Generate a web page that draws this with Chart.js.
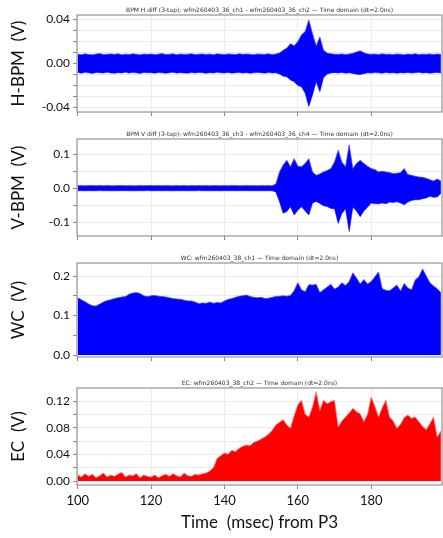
<!DOCTYPE html>
<html><head><meta charset="utf-8">
<script src="https://cdn.jsdelivr.net/npm/chart.js@4/dist/chart.umd.min.js"></script>
<style>
html,body{margin:0;padding:0;background:#fff;width:443px;height:538px;overflow:hidden}
#wrap{position:relative;width:443px;height:538px}
canvas{position:absolute;left:0}
</style></head><body>
<div id="wrap">
<canvas id="c1" width="443" height="116" style="top:0px;width:443px;height:116px"></canvas>
<canvas id="c2" width="443" height="116" style="top:124px;width:443px;height:116px"></canvas>
<canvas id="c3" width="443" height="113" style="top:248px;width:443px;height:113px"></canvas>
<canvas id="c4" width="443" height="165" style="top:373px;width:443px;height:165px"></canvas>
</div>
<script>
// time grid (msec from P3)
const times = [100,101,102,103,104,105,106,107,108,109,110,111,112,113,114,115,116,117,118,119,
120,121,122,123,124,125,126,127,128,129,130,131,132,133,134,135,136,137,138,139,
140,141,142,143,144,145,146,147,148,149,150,151,152,153,154,155,156,157,158,159,
160,161,162,163,164,165,166,167,168,169,170,171,172,173,174,175,176,177,178,179,
180,181,182,183,184,185,186,187,188,189,190,191,192,193,194,195,196,197,198,199];

// H-BPM envelope (V)
const hbpmUpper = [.0085,.0080,.0088,.0082,.0079,.0086,.0090,.0081,.0084,.0087,
.0083,.0089,.0080,.0085,.0082,.0088,.0084,.0079,.0086,.0083,
.0087,.0081,.0085,.0090,.0082,.0084,.0088,.0080,.0086,.0083,
.0085,.0089,.0081,.0084,.0087,.0082,.0086,.0080,.0088,.0084,
.0082,.0087,.0085,.0081,.0089,.0083,.0086,.0084,.0080,.0087,
.0085,.0083,.0088,.0082,.0086,.0095,.0120,.0140,.0180,.0160,
.0200,.0260,.0290,.0395,.0270,.0160,.0240,.0120,.0095,.0088,
.0085,.0083,.0087,.0082,.0086,.0092,.0105,.0115,.0098,.0087,
.0084,.0086,.0082,.0088,.0083,.0085,.0081,.0087,.0084,.0080,
.0086,.0083,.0088,.0081,.0085,.0084,.0087,.0082,.0086,.0083];
const hbpmLower = [-.0082,-.0088,-.0079,-.0085,-.0090,-.0081,-.0084,-.0087,-.0080,-.0086,
-.0089,-.0083,-.0086,-.0080,-.0087,-.0082,-.0085,-.0090,-.0081,-.0084,
-.0083,-.0088,-.0081,-.0085,-.0089,-.0084,-.0080,-.0087,-.0083,-.0086,
-.0088,-.0082,-.0086,-.0081,-.0084,-.0089,-.0083,-.0087,-.0080,-.0085,
-.0086,-.0081,-.0088,-.0084,-.0082,-.0087,-.0083,-.0089,-.0085,-.0081,
-.0084,-.0088,-.0082,-.0086,-.0085,-.0095,-.0115,-.0120,-.0150,-.0165,
-.0200,-.0210,-.0270,-.0390,-.0285,-.0165,-.0256,-.0130,-.0095,-.0087,
-.0083,-.0086,-.0081,-.0088,-.0084,-.0090,-.0098,-.0100,-.0092,-.0085,
-.0087,-.0082,-.0085,-.0089,-.0081,-.0086,-.0084,-.0088,-.0083,-.0086,
-.0082,-.0087,-.0084,-.0080,-.0086,-.0083,-.0088,-.0085,-.0081,-.0087];

// V-BPM envelope (V)
const vbpmUpper = [.0075,.0078,.0072,.0076,.0079,.0073,.0077,.0074,.0078,.0075,
.0072,.0076,.0079,.0074,.0077,.0073,.0075,.0078,.0074,.0076,
.0079,.0073,.0076,.0074,.0078,.0075,.0072,.0077,.0074,.0076,
.0073,.0077,.0075,.0079,.0074,.0076,.0072,.0078,.0075,.0073,
.0077,.0074,.0076,.0079,.0073,.0075,.0078,.0074,.0076,.0072,
.0078,.0075,.0077,.0074,.0120,.0480,.0680,.0820,.0630,.0870,
.0650,.0630,.0730,.0870,.0480,.0380,.0420,.0480,.0520,.0580,
.0770,.1120,.0770,.0630,.1280,.0580,.0730,.0820,.0730,.0650,
.0580,.0550,.0480,.0500,.0480,.0460,.0430,.0440,.0460,.0580,
.0400,.0380,.0350,.0330,.0320,.0290,.0250,.0210,.0270,.0210];
const vbpmLower = [-.0076,-.0073,-.0078,-.0074,-.0077,-.0075,-.0072,-.0079,-.0074,-.0076,
-.0078,-.0074,-.0076,-.0073,-.0077,-.0079,-.0074,-.0075,-.0078,-.0072,
-.0075,-.0078,-.0073,-.0077,-.0074,-.0076,-.0079,-.0073,-.0077,-.0075,
-.0077,-.0074,-.0078,-.0072,-.0076,-.0075,-.0079,-.0074,-.0076,-.0078,
-.0073,-.0077,-.0075,-.0078,-.0074,-.0076,-.0073,-.0079,-.0075,-.0077,
-.0074,-.0077,-.0075,-.0078,-.0110,-.0400,-.0740,-.0690,-.0550,-.0790,
-.0650,-.0550,-.0670,-.0790,-.0440,-.0390,-.0450,-.0520,-.0540,-.0600,
-.0610,-.1040,-.0750,-.0610,-.1280,-.0560,-.0670,-.0840,-.0670,-.0560,
-.0440,-.0460,-.0460,-.0440,-.0460,-.0410,-.0420,-.0400,-.0440,-.0490,
-.0410,-.0360,-.0340,-.0340,-.0310,-.0290,-.0240,-.0270,-.0260,-.0160];

// WC envelope (V)
const wcUpper = [.145,.140,.135,.129,.125,.124,.129,.134,.138,.140,
.143,.145,.147,.148,.154,.157,.158,.156,.150,.148,
.150,.151,.149,.148,.147,.145,.143,.142,.141,.139,
.137,.137,.134,.130,.132,.131,.134,.131,.133,.132,
.137,.141,.143,.146,.149,.150,.152,.148,.146,.145,
.146,.143,.144,.146,.148,.149,.150,.149,.151,.163,
.183,.165,.160,.178,.177,.179,.158,.165,.172,.179,
.167,.172,.183,.176,.186,.208,.195,.180,.191,.180,
.186,.198,.210,.168,.164,.163,.170,.177,.162,.181,
.170,.165,.190,.198,.218,.200,.183,.175,.168,.158];

// EC envelope (V)
const ecUpper = [.009,.006,.011,.007,.010,.005,.008,.012,.006,.009,
.007,.010,.013,.006,.009,.008,.011,.005,.009,.007,
.006,.009,.005,.008,.010,.007,.011,.008,.006,.012,
.008,.007,.010,.009,.011,.012,.015,.020,.034,.038,
.042,.040,.046,.044,.049,.052,.054,.053,.058,.060,
.063,.066,.070,.076,.084,.088,.092,.084,.079,.098,
.114,.121,.100,.096,.111,.134,.106,.121,.116,.119,
.121,.081,.090,.096,.102,.109,.104,.101,.089,.100,
.126,.112,.096,.110,.121,.096,.090,.079,.085,.095,
.099,.094,.096,.089,.082,.077,.086,.096,.066,.075];

const titles = [
 'BPM H diff (3-tap): wfm260403_36_ch1 - wfm260403_36_ch2 \u2014 Time domain (dt=2.0ns)',
 'BPM V diff (3-tap): wfm260403_36_ch3 - wfm260403_36_ch4 \u2014 Time domain (dt=2.0ns)',
 'WC: wfm260403_38_ch1 \u2014 Time domain (dt=2.0ns)',
 'EC: wfm260403_38_ch2 \u2014 Time domain (dt=2.0ns)'];
const yTitles = ['H-BPM  (V)', 'V-BPM  (V)', 'WC  (V)', 'EC  (V)'];
const xTitle = 'Time  (msec) from P3';
const X_MIN = 99.8, X_MAX = 199.3;

const pts = arr => times.map((t, i) => ({x: t, y: arr[i]}));

const frame = {id: 'frame', afterDatasetsDraw(c) {
  const a = c.chartArea, x = c.ctx;
  x.save(); x.strokeStyle = '#9b9b9b'; x.lineWidth = 1.3;
  x.strokeRect(a.left, a.top, a.right - a.left, a.bottom - a.top);
  x.restore();
}};

function noPad(s) { s.paddingTop = 0; s.paddingBottom = 0; s.paddingLeft = 0; s.paddingRight = 0; }

function panel(id, datasets, yMin, yMax, yStep, yMajor, yDec, yTitle, title, isBottom) {
  return new Chart(document.getElementById(id), {
    type: 'line',
    data: {datasets},
    options: {
      responsive: false, animation: false, devicePixelRatio: 1, events: [],
      layout: {padding: {top: 0, right: 1, bottom: 0, left: 0}},
      plugins: {
        legend: {display: false}, tooltip: {enabled: false},
        title: {display: true, text: title, fullSize: false, color: '#333',
          font: {family: 'DejaVu Sans', size: 6, weight: 'normal', lineHeight: 1.2},
          padding: {top: 6.4, bottom: 1.4}}
      },
      elements: {point: {radius: 0}, line: {tension: 0}},
      scales: {
        x: {type: 'linear', min: X_MIN, max: X_MAX, border: {display: false},
          grid: {color: '#ebebeb', lineWidth: 1, tickLength: 4, tickColor: '#888'},
          ticks: {display: isBottom, stepSize: 20, includeBounds: false, autoSkip: false, maxRotation: 0,
            color: '#111', font: {family: 'Lato', size: 13}, padding: 4},
          title: {display: isBottom, text: xTitle, color: '#111',
            font: {family: 'Lato', size: 17, lineHeight: 1.2}, padding: {top: 4, bottom: 4.8}},
          afterFit: s => { s.height = isBottom ? 53 : 4; noPad(s); }},
        y: {min: yMin, max: yMax, border: {display: false},
          grid: {color: '#ebebeb', lineWidth: 1, tickLength: 4, tickColor: '#888'},
          ticks: {stepSize: yStep, includeBounds: false, autoSkip: false, color: '#111',
            font: {family: 'Lato', size: 12}, padding: 3,
            callback: v => {
              const r = v / yMajor;
              if (Math.abs(r - Math.round(r)) > 1e-6) return '';
              const w = Math.abs(v) < 1e-9 ? 0 : v;
              return w.toFixed(yDec);
            }},
          title: {display: true, text: yTitle, color: '#111',
            font: {family: 'Lato', size: 17, lineHeight: 1.2}, padding: {top: 8.8, bottom: 0}},
          afterFit: s => { s.width = 77; noPad(s); }}
      }
    },
    plugins: [frame]
  });
}

const BLUE = 'rgb(0,0,255)', BLUE_EDGE = 'rgba(70,70,255,0.75)';
const RED = 'rgb(255,0,0)', RED_EDGE = 'rgba(255,120,120,0.8)';

panel('c1', [
  {data: pts(hbpmUpper), borderColor: BLUE_EDGE, borderWidth: 1, backgroundColor: BLUE, fill: '+1'},
  {data: pts(hbpmLower), borderColor: BLUE_EDGE, borderWidth: 1, fill: false}
], -0.044, 0.044, 0.01, 0.04, 2, yTitles[0], titles[0], false);

panel('c2', [
  {data: pts(vbpmUpper), borderColor: BLUE_EDGE, borderWidth: 1, backgroundColor: BLUE, fill: '+1'},
  {data: pts(vbpmLower), borderColor: BLUE_EDGE, borderWidth: 1, fill: false}
], -0.141, 0.145, 0.05, 0.1, 1, yTitles[1], titles[1], false);

panel('c3', [
  {data: pts(wcUpper), borderColor: BLUE_EDGE, borderWidth: 1, backgroundColor: BLUE, fill: 'origin'}
], -0.005, 0.233, 0.05, 0.1, 1, yTitles[2], titles[2], false);

panel('c4', [
  {data: pts(ecUpper), borderColor: RED_EDGE, borderWidth: 1, backgroundColor: RED, fill: 'origin'}
], -0.006, 0.1395, 0.02, 0.04, 2, yTitles[3], titles[3], true);
</script>
</body></html>
